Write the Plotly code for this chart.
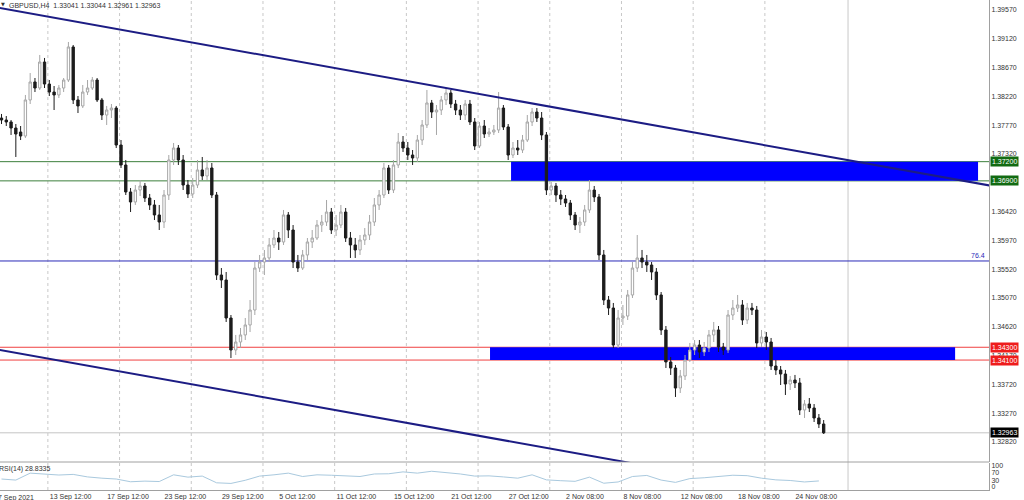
import plotly.graph_objects as go

# ---------------- data (GBPUSD; one candle per 2 H4 bars) -------------
opens = [1.37882, 1.37851, 1.37820, 1.37726, 1.37663, 1.37601, 1.38164, 1.38445, 1.38351, 1.38757,
         1.38413, 1.38288, 1.38242, 1.38351, 1.38476, 1.38992, 1.38164, 1.38070, 1.38288, 1.38351,
         1.38476, 1.38164, 1.37929, 1.38007, 1.38038, 1.37460, 1.37148, 1.36726, 1.36570, 1.36757,
         1.36820, 1.36632, 1.36523, 1.36367, 1.36257, 1.36679, 1.37226, 1.37413, 1.37226, 1.36835,
         1.36695, 1.36835, 1.37070, 1.36976, 1.37101, 1.36679, 1.35429, 1.35351, 1.34757, 1.34257,
         1.34382, 1.34492, 1.34648, 1.34882, 1.35538, 1.35632, 1.35695, 1.35898, 1.36007, 1.35945,
         1.36367, 1.36132, 1.35632, 1.35538, 1.35742, 1.35945, 1.36007, 1.36210, 1.36257, 1.36413,
         1.36132, 1.36210, 1.36413, 1.36007, 1.35898, 1.35820, 1.35976, 1.36054, 1.36257, 1.36523,
         1.36679, 1.37101, 1.36757, 1.37148, 1.37507, 1.37413, 1.37304, 1.37257, 1.37538, 1.37773,
         1.38117, 1.37976, 1.38007, 1.38164, 1.38273, 1.38101, 1.38007, 1.37929, 1.38101, 1.37820,
         1.37445, 1.37757, 1.37632, 1.37663, 1.37695, 1.38038, 1.37742, 1.37304, 1.37413, 1.37382,
         1.37538, 1.37820, 1.37976, 1.37882, 1.37617, 1.36757, 1.36820, 1.36679, 1.36617, 1.36554,
         1.36367, 1.36210, 1.36257, 1.36445, 1.36757, 1.36648, 1.35742, 1.35038, 1.34913, 1.34335,
         1.34757, 1.34788, 1.35117, 1.35538, 1.35695, 1.35632, 1.35585, 1.35476, 1.35117, 1.34570,
         1.34070, 1.33976, 1.33663, 1.33851, 1.34101, 1.34257, 1.34335, 1.34226, 1.34288, 1.34492,
         1.34570, 1.34304, 1.34257, 1.34804, 1.34913, 1.34960, 1.34726, 1.34913, 1.34882, 1.34367,
         1.34460, 1.34382, 1.34007, 1.33945, 1.33882, 1.33726, 1.33788, 1.33742, 1.33320, 1.33413,
         1.33351, 1.33195, 1.33101]
highs = [1.37945, 1.37913, 1.37851, 1.37788, 1.37757, 1.38242, 1.38585, 1.38507, 1.38867, 1.38820,
         1.38476, 1.38382, 1.38398, 1.38507, 1.39070, 1.39023, 1.38226, 1.38398, 1.38476, 1.38523,
         1.38507, 1.38195, 1.38070, 1.38101, 1.38070, 1.37538, 1.37226, 1.36788, 1.36835, 1.36913,
         1.36867, 1.36695, 1.36601, 1.36523, 1.36757, 1.37304, 1.37492, 1.37460, 1.37304, 1.36913,
         1.36945, 1.37226, 1.37273, 1.37226, 1.37179, 1.36726, 1.35538, 1.35476, 1.34804, 1.34492,
         1.34601, 1.34757, 1.35038, 1.35632, 1.35742, 1.35820, 1.36007, 1.36132, 1.36101, 1.36445,
         1.36413, 1.36210, 1.35742, 1.35820, 1.36007, 1.36132, 1.36288, 1.36367, 1.36601, 1.36476,
         1.36367, 1.36523, 1.36476, 1.36101, 1.36007, 1.36054, 1.36163, 1.36367, 1.36632, 1.36757,
         1.37179, 1.37148, 1.37226, 1.37648, 1.37601, 1.37507, 1.37382, 1.37617, 1.37851, 1.38320,
         1.38164, 1.38085, 1.38226, 1.38351, 1.38320, 1.38164, 1.38085, 1.38164, 1.38164, 1.37882,
         1.37820, 1.37851, 1.37726, 1.37773, 1.38288, 1.38085, 1.37788, 1.37507, 1.37538, 1.37617,
         1.37929, 1.38038, 1.38038, 1.37976, 1.37663, 1.36882, 1.36867, 1.36757, 1.36679, 1.36601,
         1.36413, 1.36335, 1.36523, 1.36913, 1.36820, 1.36695, 1.35820, 1.35101, 1.34992, 1.34882,
         1.34960, 1.35195, 1.35632, 1.36054, 1.35820, 1.35742, 1.35632, 1.35538, 1.35163, 1.34632,
         1.34148, 1.34023, 1.33945, 1.34179, 1.34367, 1.34413, 1.34413, 1.34382, 1.34570, 1.34695,
         1.34632, 1.34367, 1.34882, 1.35038, 1.35117, 1.35038, 1.34992, 1.34992, 1.34945, 1.34570,
         1.34538, 1.34445, 1.34101, 1.34007, 1.33945, 1.33851, 1.33867, 1.33820, 1.33476, 1.33507,
         1.33413, 1.33257, 1.33163]
lows = [1.37788, 1.37757, 1.37617, 1.37273, 1.37538, 1.37570, 1.38101, 1.38288, 1.38320, 1.38351,
        1.38226, 1.38007, 1.38195, 1.38288, 1.38445, 1.38101, 1.37960, 1.38038, 1.38242, 1.38320,
        1.38132, 1.37851, 1.37773, 1.37882, 1.37413, 1.37101, 1.36679, 1.36413, 1.36523, 1.36663,
        1.36570, 1.36445, 1.36288, 1.36132, 1.36163, 1.36601, 1.37148, 1.37148, 1.36757, 1.36632,
        1.36632, 1.36788, 1.36913, 1.36913, 1.36632, 1.35351, 1.35226, 1.34695, 1.34132, 1.34179,
        1.34288, 1.34413, 1.34538, 1.34804, 1.35476, 1.35429, 1.35632, 1.35851, 1.35820, 1.35898,
        1.36007, 1.35538, 1.35476, 1.35507, 1.35663, 1.35851, 1.35976, 1.36101, 1.36195, 1.36070,
        1.36038, 1.36163, 1.35945, 1.35695, 1.35695, 1.35742, 1.35898, 1.35976, 1.36195, 1.36445,
        1.36632, 1.36695, 1.36710, 1.37101, 1.37351, 1.37226, 1.37148, 1.37195, 1.37460, 1.37726,
        1.37882, 1.37617, 1.37929, 1.38085, 1.38038, 1.37929, 1.37851, 1.37851, 1.37773, 1.37382,
        1.37413, 1.37570, 1.37585, 1.37617, 1.37648, 1.37695, 1.37226, 1.37257, 1.37304, 1.37335,
        1.37507, 1.37757, 1.37820, 1.37538, 1.36679, 1.36679, 1.36570, 1.36523, 1.36492, 1.36288,
        1.36132, 1.36085, 1.36195, 1.36398, 1.36570, 1.35663, 1.34960, 1.34804, 1.34288, 1.34288,
        1.34648, 1.34726, 1.35070, 1.35476, 1.35538, 1.35476, 1.35351, 1.35038, 1.34492, 1.33976,
        1.33867, 1.33523, 1.33585, 1.33788, 1.34070, 1.34179, 1.34132, 1.34163, 1.34226, 1.34382,
        1.34226, 1.34179, 1.34210, 1.34726, 1.34851, 1.34648, 1.34663, 1.34804, 1.34288, 1.34304,
        1.34257, 1.33945, 1.33867, 1.33710, 1.33554, 1.33632, 1.33663, 1.33242, 1.33195, 1.33288,
        1.33132, 1.33038, 1.32945]
closes = [1.37851, 1.37820, 1.37726, 1.37632, 1.37601, 1.38164, 1.38445, 1.38351, 1.38757, 1.38413,
          1.38288, 1.38242, 1.38351, 1.38476, 1.38992, 1.38164, 1.38070, 1.38288, 1.38351, 1.38476,
          1.38164, 1.37929, 1.38007, 1.38038, 1.37460, 1.37148, 1.36726, 1.36570, 1.36757, 1.36820,
          1.36632, 1.36523, 1.36367, 1.36257, 1.36679, 1.37226, 1.37413, 1.37226, 1.36835, 1.36695,
          1.36835, 1.37070, 1.36976, 1.37101, 1.36679, 1.35429, 1.35351, 1.34757, 1.34257, 1.34382,
          1.34492, 1.34648, 1.34882, 1.35538, 1.35632, 1.35695, 1.35898, 1.36007, 1.35945, 1.36367,
          1.36132, 1.35632, 1.35538, 1.35742, 1.35945, 1.36007, 1.36210, 1.36257, 1.36413, 1.36132,
          1.36210, 1.36413, 1.36007, 1.35898, 1.35820, 1.35976, 1.36054, 1.36257, 1.36523, 1.36679,
          1.37101, 1.36757, 1.37148, 1.37507, 1.37413, 1.37304, 1.37257, 1.37538, 1.37773, 1.38117,
          1.37976, 1.38007, 1.38164, 1.38273, 1.38101, 1.38007, 1.37929, 1.38101, 1.37820, 1.37445,
          1.37757, 1.37632, 1.37663, 1.37695, 1.38038, 1.37742, 1.37304, 1.37413, 1.37382, 1.37538,
          1.37820, 1.37976, 1.37882, 1.37617, 1.36757, 1.36820, 1.36679, 1.36617, 1.36554, 1.36367,
          1.36210, 1.36257, 1.36445, 1.36757, 1.36648, 1.35742, 1.35038, 1.34913, 1.34335, 1.34757,
          1.34788, 1.35117, 1.35538, 1.35695, 1.35632, 1.35585, 1.35476, 1.35117, 1.34570, 1.34070,
          1.33976, 1.33663, 1.33851, 1.34101, 1.34257, 1.34335, 1.34226, 1.34288, 1.34492, 1.34570,
          1.34304, 1.34257, 1.34804, 1.34913, 1.34960, 1.34726, 1.34913, 1.34882, 1.34367, 1.34460,
          1.34382, 1.34007, 1.33945, 1.33882, 1.33726, 1.33788, 1.33742, 1.33320, 1.33413, 1.33351,
          1.33195, 1.33101, 1.32963]

# RSI(14) read every 3rd candle
rsi_step = 3
rsi_vals = [38, 33, 66, 62, 57, 60, 48, 42, 38, 25, 28, 26, 58, 47, 52, 20, 17, 32, 52, 58,
            66, 50, 58, 56, 52, 50, 62, 63, 72, 66, 75, 70, 62, 52, 53, 48, 42, 58, 34, 30,
            27, 47, 18, 24, 50, 55, 33, 22, 40, 44, 50, 56, 54, 42, 34, 31, 24, 28.8]

time_labels = ["13 Sep 12:00", "17 Sep 12:00", "23 Sep 12:00", "29 Sep 12:00", "5 Oct 12:00",
               "11 Oct 12:00", "15 Oct 12:00", "21 Oct 12:00", "27 Oct 12:00", "2 Nov 08:00",
               "8 Nov 08:00", "12 Nov 08:00", "18 Nov 08:00", "24 Nov 08:00"]
time_label_idx = [10, 22, 34, 46, 58, 70, 82, 94, 106, 118, 130, 142, 154, 166]
first_label = "7 Sep 2021"

# 1.36870 is hidden behind the 1.36900 tag in the reference
price_ticks = [1.39570, 1.39120, 1.38670, 1.38220, 1.37770, 1.37320, 1.36420,
               1.35970, 1.35520, 1.35070, 1.34620, 1.34170, 1.33720, 1.33270, 1.32820]

# drawn objects (candle index, price)
upper_channel = [(-1, 1.39610), (207, 1.36824)]
lower_channel = [(-1, 1.34267), (207, 1.31482)]
green_levels = [1.37200, 1.36900]
red_levels = [1.34300, 1.34100]
fib_level = 1.35648
fib_text = "76.4"
bid_price = 1.32963
upper_box = dict(x0=106.6, x1=204.3, y0=1.36900, y1=1.37200)
lower_box = dict(x0=102.2, x1=199.5, y0=1.34100, y1=1.34300)
grid_idx = [9.7 + 15 * k for k in range(11)]
shift_idx = 177.1

title_text = "GBPUSD,H4  1.33041 1.33044 1.32961 1.32963"
rsi_text = "RSI(14) 28.8335"

# ---------------- figure -------------
FONT = "Liberation Sans, Arial, sans-serif"
TXT = "#333333"
AX = "#a0a0a0"
n = len(closes)
idx = list(range(n))
rsi_idx = list(range(0, rsi_step * len(rsi_vals), rsi_step))

fig = go.Figure()
fig.add_trace(go.Candlestick(
    x=idx, open=opens, high=highs, low=lows, close=closes,
    increasing=dict(line=dict(color="#a6a6a6", width=1), fillcolor="#ffffff"),
    decreasing=dict(line=dict(color="#1c1c1c", width=1), fillcolor="#1c1c1c"),
    whiskerwidth=0, xaxis="x", yaxis="y", showlegend=False, hoverinfo="skip"))
fig.add_trace(go.Scatter(x=rsi_idx, y=rsi_vals, mode="lines",
                         line=dict(color="#a9c9de", width=1),
                         xaxis="x", yaxis="y2", showlegend=False, hoverinfo="skip"))

H_PLOT = 490.0
main_bottom = (H_PLOT - 462) / H_PLOT
rsi_top = (H_PLOT - 463) / H_PLOT

shapes = []
for g in grid_idx:
    shapes.append(dict(type="line", xref="x", yref="paper", x0=g, x1=g, y0=0, y1=1,
                       line=dict(color="#c8c8c8", width=1, dash="dot"), layer="below"))
shapes.append(dict(type="line", xref="x", yref="paper", x0=shift_idx, x1=shift_idx, y0=0, y1=1,
                   line=dict(color="#c8c8c8", width=1), layer="below"))
for b in (upper_box, lower_box):
    shapes.append(dict(type="rect", xref="x", yref="y", line=dict(width=0),
                       fillcolor="#0000ff", layer="below", **b))
for lv in green_levels:
    shapes.append(dict(type="line", xref="paper", yref="y", x0=0, x1=1, y0=lv, y1=lv,
                       line=dict(color="#3c7f3c", width=1), layer="below"))
for lv in red_levels:
    shapes.append(dict(type="line", xref="paper", yref="y", x0=0, x1=1, y0=lv, y1=lv,
                       line=dict(color="#f04040", width=1), layer="below"))
shapes.append(dict(type="line", xref="paper", yref="y", x0=0, x1=1, y0=fib_level, y1=fib_level,
                   line=dict(color="#2a2ab8", width=1), layer="below"))
shapes.append(dict(type="line", xref="paper", yref="y", x0=0, x1=1, y0=bid_price, y1=bid_price,
                   line=dict(color="#c4c4c4", width=1), layer="below"))
for ln in (upper_channel, lower_channel):
    shapes.append(dict(type="line", xref="x", yref="y", x0=ln[0][0], y0=ln[0][1],
                       x1=ln[1][0], y1=ln[1][1], line=dict(color="#1c1c84", width=2)))
shapes.append(dict(type="line", xref="paper", yref="paper", x0=0, x1=1,
                   y0=main_bottom, y1=main_bottom, line=dict(color=AX, width=1)))

annotations = []
def tag(price, bg):
    return dict(x=1, xref="paper", xanchor="left", xshift=1, y=price, yref="y",
                yanchor="middle", text=f"{price:.5f}", showarrow=False,
                font=dict(size=7, color="white", family=FONT), bgcolor=bg, borderpad=1)
for lv in green_levels:
    annotations.append(tag(lv, "#126b12"))
for lv in red_levels:
    annotations.append(tag(lv, "#ee1c1c"))
annotations.append(tag(bid_price, "#000000"))
annotations.append(dict(x=1, xref="paper", xanchor="right", xshift=-2, y=fib_level, yref="y",
                        yanchor="bottom", text=fib_text, showarrow=False,
                        font=dict(size=7, color="#2a2ab8", family=FONT)))
annotations.append(dict(x=0, xref="paper", xanchor="left", xshift=7, y=1, yref="paper",
                        yanchor="top", yshift=0, text=title_text, showarrow=False,
                        font=dict(size=7, color=TXT, family=FONT)))
annotations.append(dict(x=0, xref="paper", xanchor="left", xshift=-1, y=1, yref="paper",
                        yanchor="top", yshift=1, text="▼", showarrow=False,
                        font=dict(size=5, color="#333", family="DejaVu Sans")))
annotations.append(dict(x=0, xref="paper", xanchor="left", xshift=-3, y=rsi_top, yref="paper",
                        yanchor="top", text=rsi_text, showarrow=False,
                        font=dict(size=7, color=TXT, family=FONT)))
annotations.append(dict(x=0, xref="paper", xanchor="left", xshift=-4, y=0, yref="paper",
                        yanchor="top", yshift=-2, text=first_label, showarrow=False,
                        font=dict(size=7, color=TXT, family=FONT)))

fig.update_layout(
    template="none", width=1024, height=500,
    margin=dict(l=0, r=35, t=0, b=10, pad=0),
    paper_bgcolor="white", plot_bgcolor="white", showlegend=False,
    shapes=shapes, annotations=annotations,
    xaxis=dict(domain=[0, 1], anchor="y2", range=[-0.3138, 206.59], showgrid=False,
               zeroline=False, showline=True, linecolor=AX, linewidth=1,
               tickmode="array", tickvals=time_label_idx, ticktext=time_labels,
               ticklabelposition="outside right", ticks="", ticklen=0,
               tickfont=dict(size=7, color=TXT, family=FONT),
               rangeslider=dict(visible=False), automargin=False, fixedrange=True),
    yaxis=dict(domain=[main_bottom, 1], anchor="x", side="right",
               range=[1.32507, 1.39726], showgrid=False, zeroline=False,
               showline=True, linecolor=AX, linewidth=1, ticks="",
               tickmode="array", tickvals=price_ticks,
               ticktext=[f"{t:.5f}" for t in price_ticks],
               tickfont=dict(size=7, color=TXT, family=FONT), automargin=False, fixedrange=True),
    yaxis2=dict(domain=[0, rsi_top], anchor="x", side="right", range=[-14.3, 114.3],
                showgrid=False, zeroline=False, showline=True, linecolor=AX, linewidth=1,
                ticks="", tickmode="array", tickvals=[100, 70, 30, 0],
                ticktext=["100", "70", "30", "0"],
                tickfont=dict(size=7, color=TXT, family=FONT), automargin=False, fixedrange=True),
)

fig.write_html("out.html", config={"displayModeBar": False, "staticPlot": True},
               post_script="document.body.style.margin='0px';")
